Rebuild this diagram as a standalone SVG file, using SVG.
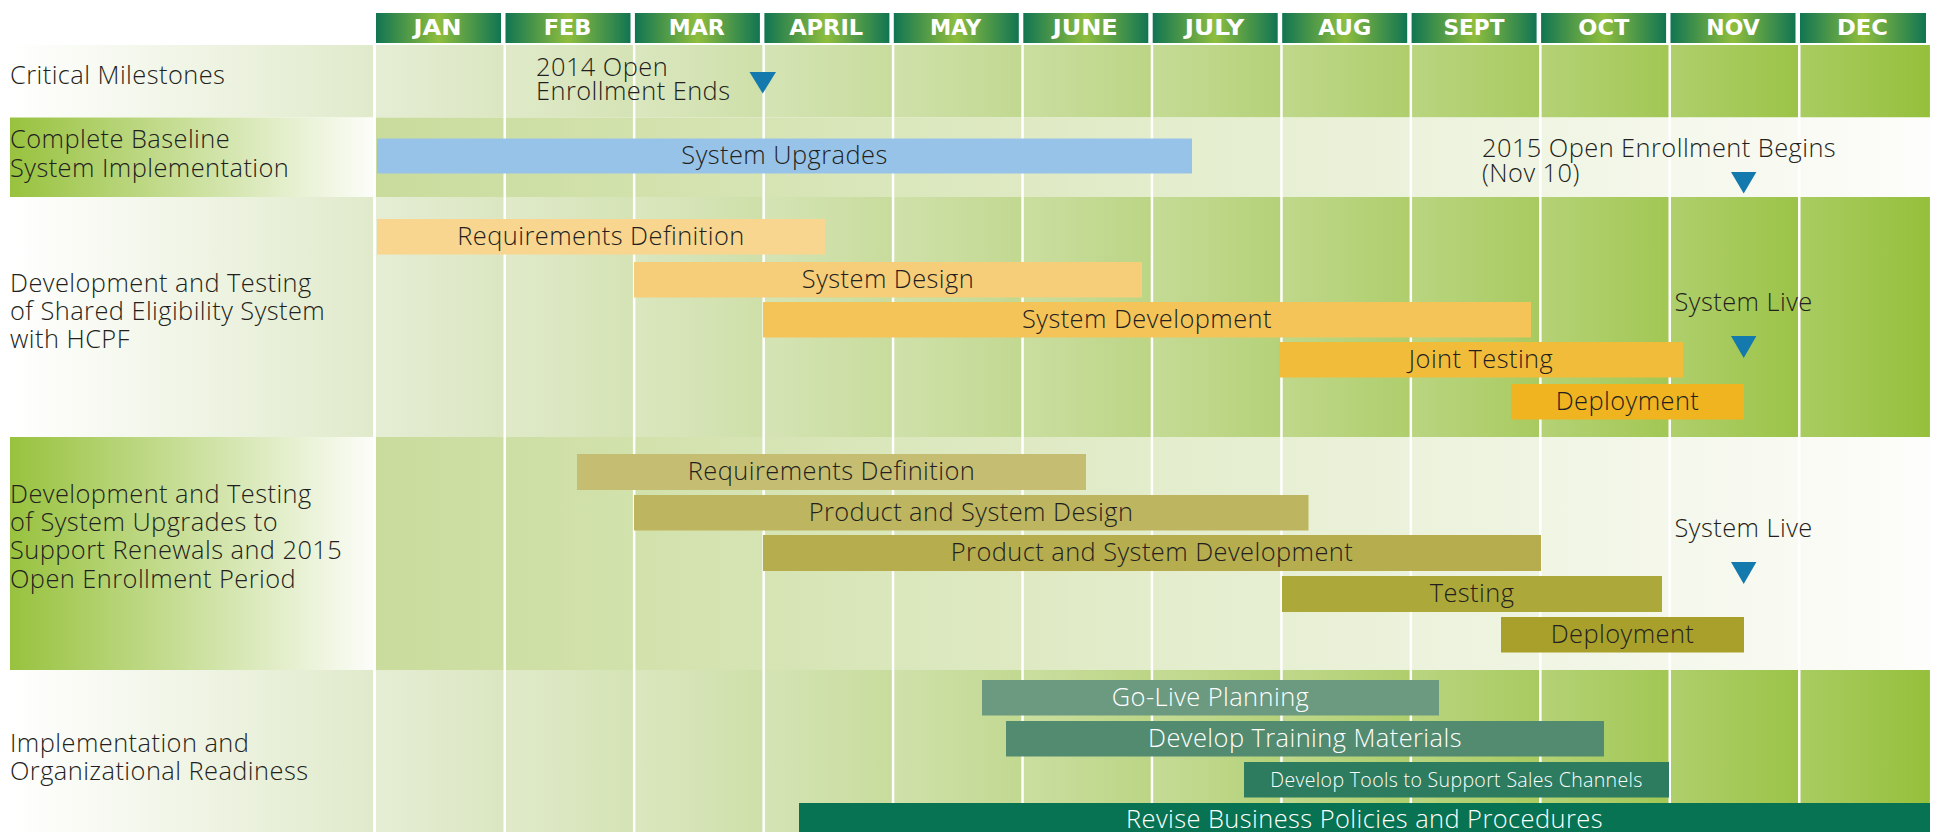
<svg xmlns="http://www.w3.org/2000/svg" width="1939" height="832" viewBox="0 0 1939 832">
  <style>
    text { font-family: "Open Sans", "Liberation Sans", sans-serif; font-weight: 300; fill: #231f20; letter-spacing: 0.45px; }
    .lbl { font-size: 25.4px; }
    .bar-t { font-size: 25.4px; text-anchor: middle; }
    .light { fill: #ffffff; }
    .small { font-size: 19.5px; letter-spacing: 0.35px; }
    .mon { font-family: "DejaVu Sans", "Open Sans", sans-serif; font-size: 21.5px; font-weight: bold; fill: #ffffff; text-anchor: middle; letter-spacing: 0; }
    .grid { fill: #ffffff; }
    .tri { fill: #1479ad; }
  </style>
  <defs>
    <linearGradient id="hdr" x1="0" y1="0" x2="1" y2="0">
      <stop offset="0" stop-color="#117552"/>
      <stop offset="0.5" stop-color="#8fbe3e"/>
      <stop offset="1" stop-color="#117552"/>
    </linearGradient>
    <linearGradient id="lblLight" gradientUnits="userSpaceOnUse" x1="10" y1="0" x2="373" y2="0">
      <stop offset="0" stop-color="#ffffff"/>
      <stop offset="1" stop-color="#e0eacb"/>
    </linearGradient>
    <linearGradient id="lblGreen" gradientUnits="userSpaceOnUse" x1="10" y1="0" x2="373" y2="0">
      <stop offset="0" stop-color="#98c23e"/>
      <stop offset="1" stop-color="#fcfdf9"/>
    </linearGradient>
    <linearGradient id="chartDark" gradientUnits="userSpaceOnUse" x1="376" y1="0" x2="1930" y2="0">
      <stop offset="0" stop-color="#e1eacd"/>
      <stop offset="1" stop-color="#95c03b"/>
    </linearGradient>
    <linearGradient id="chartLight" gradientUnits="userSpaceOnUse" x1="376" y1="0" x2="1930" y2="0">
      <stop offset="0" stop-color="#c9dc9c"/>
      <stop offset="1" stop-color="#fdfdfb"/>
    </linearGradient>
    <!-- slight per-month shading, lighter at the start of each month -->
    <linearGradient id="monthShade" x1="0" y1="0" x2="1" y2="0">
      <stop offset="0" stop-color="#ffffff" stop-opacity="0.14"/>
      <stop offset="1" stop-color="#ffffff" stop-opacity="0"/>
    </linearGradient>
    <pattern id="monthCols" patternUnits="userSpaceOnUse" x="376" y="0" width="129.45" height="832">
      <rect width="129.45" height="832" fill="url(#monthShade)"/>
    </pattern>
  </defs>

  <rect width="1939" height="832" fill="#ffffff"/>

  <!-- row bands: label strip + timeline strip -->
  <g id="bands">
    <rect x="10" y="45" width="363" height="72.5" fill="url(#lblLight)"/>
    <rect x="376" y="45" width="1554" height="72.5" fill="url(#chartDark)"/>
    <rect x="376" y="45" width="1554" height="72.5" fill="url(#monthCols)"/>
    <rect x="10" y="117.5" width="363" height="79.5" fill="url(#lblGreen)"/>
    <rect x="376" y="117.5" width="1554" height="79.5" fill="url(#chartLight)"/>
    <rect x="10" y="197" width="363" height="240" fill="url(#lblLight)"/>
    <rect x="376" y="197" width="1554" height="240" fill="url(#chartDark)"/>
    <rect x="376" y="197" width="1554" height="240" fill="url(#monthCols)"/>
    <rect x="10" y="437" width="363" height="233" fill="url(#lblGreen)"/>
    <rect x="376" y="437" width="1554" height="233" fill="url(#chartLight)"/>
    <rect x="10" y="670" width="363" height="162" fill="url(#lblLight)"/>
    <rect x="376" y="670" width="1554" height="162" fill="url(#chartDark)"/>
    <rect x="376" y="670" width="1554" height="162" fill="url(#monthCols)"/>
  </g>

  <!-- month separators -->
  <g id="grid" class="grid">
    <rect x="503.5" y="43" width="2.5" height="789"/>
    <rect x="632.9" y="43" width="2.5" height="789"/>
    <rect x="762.4" y="43" width="2.5" height="789"/>
    <rect x="891.8" y="43" width="2.5" height="789"/>
    <rect x="1021.3" y="43" width="2.5" height="789"/>
    <rect x="1150.7" y="43" width="2.5" height="789"/>
    <rect x="1280.2" y="43" width="2.5" height="789"/>
    <rect x="1409.6" y="43" width="2.5" height="789"/>
    <rect x="1539.1" y="43" width="2.5" height="789"/>
    <rect x="1668.5" y="43" width="2.5" height="789"/>
    <rect x="1798" y="43" width="2.5" height="789"/>
  </g>

  <!-- month header -->
  <g id="months">
    <rect x="376" y="13" width="125" height="30" fill="url(#hdr)"/>
    <rect x="505.5" y="13" width="125" height="30" fill="url(#hdr)"/>
    <rect x="634.9" y="13" width="125" height="30" fill="url(#hdr)"/>
    <rect x="764.4" y="13" width="125" height="30" fill="url(#hdr)"/>
    <rect x="893.8" y="13" width="125" height="30" fill="url(#hdr)"/>
    <rect x="1023.3" y="13" width="125" height="30" fill="url(#hdr)"/>
    <rect x="1152.7" y="13" width="125" height="30" fill="url(#hdr)"/>
    <rect x="1282.2" y="13" width="125" height="30" fill="url(#hdr)"/>
    <rect x="1411.6" y="13" width="125" height="30" fill="url(#hdr)"/>
    <rect x="1541.1" y="13" width="125" height="30" fill="url(#hdr)"/>
    <rect x="1670.5" y="13" width="125" height="30" fill="url(#hdr)"/>
    <rect x="1800" y="13" width="126" height="30" fill="url(#hdr)"/>
    <text class="mon" x="437.5" y="35" textLength="48" lengthAdjust="spacingAndGlyphs">JAN</text>
    <text class="mon" x="567.5" y="35" textLength="47.7" lengthAdjust="spacingAndGlyphs">FEB</text>
    <text class="mon" x="696.7" y="35" textLength="56" lengthAdjust="spacingAndGlyphs">MAR</text>
    <text class="mon" x="826.2" y="35" textLength="74" lengthAdjust="spacingAndGlyphs">APRIL</text>
    <text class="mon" x="955.6" y="35" textLength="51" lengthAdjust="spacingAndGlyphs">MAY</text>
    <text class="mon" x="1085.3" y="35" textLength="65" lengthAdjust="spacingAndGlyphs">JUNE</text>
    <text class="mon" x="1214.5" y="35" textLength="59.4" lengthAdjust="spacingAndGlyphs">JULY</text>
    <text class="mon" x="1344.8" y="35" textLength="53" lengthAdjust="spacingAndGlyphs">AUG</text>
    <text class="mon" x="1474" y="35" textLength="61" lengthAdjust="spacingAndGlyphs">SEPT</text>
    <text class="mon" x="1603.8" y="35" textLength="51" lengthAdjust="spacingAndGlyphs">OCT</text>
    <text class="mon" x="1733" y="35" textLength="53.4" lengthAdjust="spacingAndGlyphs">NOV</text>
    <text class="mon" x="1862.5" y="35" textLength="51" lengthAdjust="spacingAndGlyphs">DEC</text>
  </g>

  <!-- workstream labels -->
  <g id="label-milestones"><text class="lbl" x="10" y="83.5">Critical Milestones</text></g>
  <g id="label-baseline">
    <text class="lbl" x="10" y="148.3">Complete Baseline</text>
    <text class="lbl" x="10" y="176.7">System Implementation</text>
  </g>
  <g id="label-shared">
    <text class="lbl" x="10" y="291.7">Development and Testing</text>
    <text class="lbl" x="10" y="320">of Shared Eligibility System</text>
    <text class="lbl" x="10" y="348.3">with HCPF</text>
  </g>
  <g id="label-upgrades">
    <text class="lbl" x="10" y="502.7">Development and Testing</text>
    <text class="lbl" x="10" y="531">of System Upgrades to</text>
    <text class="lbl" x="10" y="559.3">Support Renewals and 2015</text>
    <text class="lbl" x="10" y="587.7">Open Enrollment Period</text>
  </g>
  <g id="label-readiness">
    <text class="lbl" x="10" y="751.7">Implementation and</text>
    <text class="lbl" x="10" y="780">Organizational Readiness</text>
  </g>

  <!-- milestones -->
  <g id="ms-2014-oe-ends">
    <text class="lbl" x="536" y="75.5">2014 Open</text>
    <text class="lbl" x="536" y="99.5">Enrollment Ends</text>
    <polygon class="tri" points="749.5,72 776,72 762.7,93.5"/>
  </g>
  <g id="ms-2015-oe-begins">
    <text class="lbl" x="1482" y="156.7">2015 Open Enrollment Begins</text>
    <text class="lbl" x="1482" y="181.5">(Nov 10)</text>
    <polygon class="tri" points="1731,172 1756.4,172 1743.7,193.5"/>
  </g>
  <g id="ms-shared-live">
    <text class="bar-t" x="1743.6" y="310.7">System Live</text>
    <polygon class="tri" points="1731,336 1756.4,336 1743.7,358"/>
  </g>
  <g id="ms-upgrades-live">
    <text class="bar-t" x="1743.6" y="537.3">System Live</text>
    <polygon class="tri" points="1731,562 1756.4,562 1743.7,584"/>
  </g>

  <!-- baseline implementation -->
  <g id="bar-system-upgrades">
    <rect x="377" y="138.5" width="815" height="35" fill="#98c3e8"/>
    <text class="bar-t" x="784.5" y="164">System Upgrades</text>
  </g>

  <!-- shared eligibility system -->
  <g id="bar-se-requirements">
    <rect x="377" y="219" width="448" height="35.5" fill="#f8d68f"/>
    <text class="bar-t" x="601" y="244.8">Requirements Definition</text>
  </g>
  <g id="bar-se-design">
    <rect x="634" y="262" width="508" height="35.5" fill="#f6cd78"/>
    <text class="bar-t" x="888" y="287.8">System Design</text>
  </g>
  <g id="bar-se-development">
    <rect x="763" y="302" width="768" height="35.5" fill="#f4c459"/>
    <text class="bar-t" x="1147" y="327.8">System Development</text>
  </g>
  <g id="bar-se-joint-testing">
    <rect x="1279.5" y="342" width="403.5" height="35.5" fill="#f2bc3b"/>
    <text class="bar-t" x="1481" y="367.8">Joint Testing</text>
  </g>
  <g id="bar-se-deployment">
    <rect x="1511" y="384" width="233" height="35.5" fill="#efb41f"/>
    <text class="bar-t" x="1627.5" y="409.8">Deployment</text>
  </g>

  <!-- system upgrades for renewals -->
  <g id="bar-up-requirements">
    <rect x="577" y="454" width="509" height="36" fill="#c5bd72"/>
    <text class="bar-t" x="831.5" y="480">Requirements Definition</text>
  </g>
  <g id="bar-up-design">
    <rect x="634" y="495" width="674.5" height="35.5" fill="#bdb55f"/>
    <text class="bar-t" x="971" y="520.8">Product and System Design</text>
  </g>
  <g id="bar-up-development">
    <rect x="763" y="535" width="778" height="36" fill="#b6ad4e"/>
    <text class="bar-t" x="1152" y="561">Product and System Development</text>
  </g>
  <g id="bar-up-testing">
    <rect x="1282" y="576" width="380" height="36" fill="#ada83a"/>
    <text class="bar-t" x="1472" y="602">Testing</text>
  </g>
  <g id="bar-up-deployment">
    <rect x="1501" y="617" width="243" height="35.5" fill="#a8a02a"/>
    <text class="bar-t" x="1622.5" y="642.8">Deployment</text>
  </g>

  <!-- organizational readiness -->
  <g id="bar-go-live">
    <rect x="982" y="680" width="457" height="35.5" fill="#6c9a81"/>
    <text class="bar-t light" x="1210.5" y="705.8">Go-Live Planning</text>
  </g>
  <g id="bar-training">
    <rect x="1006" y="721" width="598" height="35.5" fill="#528b70"/>
    <text class="bar-t light" x="1305" y="746.8">Develop Training Materials</text>
  </g>
  <g id="bar-sales-tools">
    <rect x="1244" y="762" width="425" height="35.5" fill="#2d7c5f"/>
    <text class="bar-t light small" x="1456.5" y="786.5">Develop Tools to Support Sales Channels</text>
  </g>
  <g id="bar-policies">
    <rect x="799" y="803" width="1131" height="36" fill="#087352"/>
    <text class="bar-t light" x="1364.5" y="828">Revise Business Policies and Procedures</text>
  </g>
</svg>
